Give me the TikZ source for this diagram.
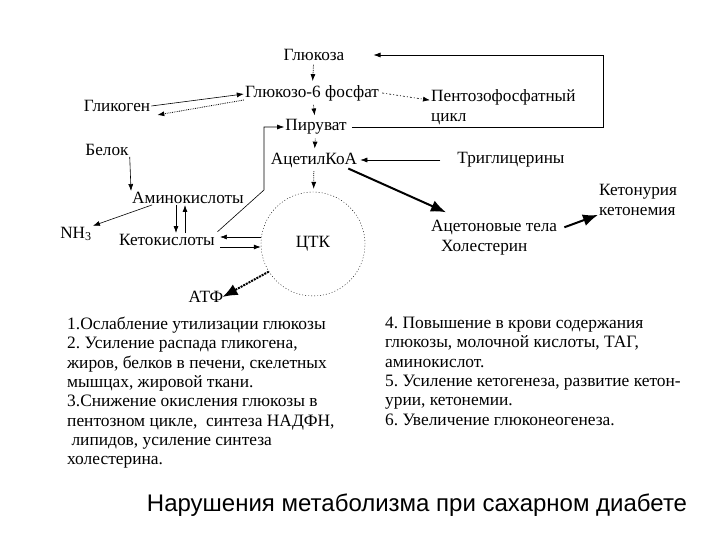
\documentclass[tikz,border=0pt]{standalone}
\usepackage{fontspec}
\setmainfont{Liberation Serif}
\newfontfamily\titlefont{Liberation Sans}
\usetikzlibrary{arrows, arrows.meta, positioning}
\frenchspacing

\begin{document}
\begin{tikzpicture}[
  x=1pt, y=-1pt,
  every node/.style={
    inner sep=1pt,
    font=\fontsize{17.2}{20}\selectfont,
    align=left
  },
  >={Latex[length=7pt,width=5pt]}, %Make the arrow tips latex
  myline/.style={draw, semithick, black},
  mylinedot/.style={draw, thick, black, densely dotted},
  mybig/.style={draw, line width=2pt, black, -{Latex[length=15pt,width=12pt]}},
  shorter/.style={shorten <=1mm, shorten >=1mm},
  list text/.style={anchor=north west, font=\fontsize{17.4}{19.3}\selectfont}
  ]
\useasboundingbox (0,0) rectangle (720,540);
% central chain
\node (GLU) at (314,55) {Глюкоза};
\node (G6P) at (312,93) {Глюкозо-6 фосфат};
\node (PYR) at (316,127) {Пируват};
\node (ACOA) at (314,160) {АцетилКоА};
\node[circle, draw, thin, dash pattern=on 1pt off 2pt, minimum size=104pt] (CTK) at (313,244) {ЦТК};
% left side
\node (GLY) at (117,106) {Гликоген};
\node (PROT) at (107,150) {Белок};
\node (AMINO) at (188,198) {Аминокислоты};
\node (NH3) at (76,234) {NH\textsubscript{3}};
\node (KETO) at (167,240) {Кетокислоты};
\node (ATP) at (206,297) {АТФ};
% right side
\node[anchor=west] (PENT) at (430,107) {Пентозофосфатный\\цикл};
\node (TAG) at (511,160) {Триглицерины};
\node[anchor=west] (ACET) at (430,238) {Ацетоновые тела\\\hspace{10pt}Холестерин};
\node[anchor=west] (KETU) at (598,200) {Кетонурия\\кетонемия};
\coordinate (LOOP) at (603,55);
\coordinate (BEND) at (264,190);

\path[mylinedot,shorter] (GLU) edge[->] (G6P)
                         (G6P) edge[->] (PYR)
                         (PYR) edge[->] (ACOA)
                         (ACOA) edge[->] (CTK);
\draw[myline,->,shorten >=28pt] ([xshift=4pt]PYR.east) -| (LOOP) -- (GLU.east);
\draw[myline,->,shorten <=2pt] (KETO.north east) -- (BEND) |- (PYR.west);
\draw[myline,->,shorten >=2pt] ([xshift=-16pt]TAG.west) -- (ACOA.east);
\draw[semithick,dash pattern=on 2pt off 2pt on 1pt off 2pt,->] ([xshift=2pt]G6P.east) -- ([yshift=-12pt]PENT.north west);
\draw[semithick,->] ([yshift=0pt]GLY.east) -- ([yshift=-1pt]G6P.west);
\draw[thick,densely dotted,->] ([yshift=-7pt]G6P.west) -- ([xshift=6pt,yshift=-9pt]GLY.east);
\draw[semithick,->] (PROT.south east) -- (AMINO.north west);
\draw[semithick,->] ([xshift=-36pt]AMINO.south) -- (NH3.north east);
\draw[thick,->] ([xshift=-12pt]AMINO.south) -- ([xshift=9pt]KETO.north);
\draw[thick,->] ([xshift=18pt]KETO.north) -- ([xshift=-3pt]AMINO.south);
\draw[semithick,->] ([yshift=7pt]CTK.west) -- ([xshift=4pt,yshift=7pt]CTK.west -| KETO.east);
\draw[thick,->] ([xshift=4pt,yshift=-3pt]CTK.west -| KETO.east) -- ([yshift=-3pt]CTK.west);
\draw[line width=2pt, densely dotted, -{Latex[length=15pt,width=12pt]}] (CTK.212) -- ([xshift=-2pt]ATP.east);
\draw[mybig] ([xshift=-10pt]ACOA.south east) -- ([xshift=16pt,yshift=7pt]ACET.north west);
\draw[mybig] ([xshift=6pt,yshift=-8pt]ACET.north east) -- ([yshift=2pt]KETU.south west);

\begin{scope}[every node/.append style={list text}]
  \node (LEFT) at (66,316) {1.Ослабление утилизации глюкозы\\
    2. Усиление распада гликогена,\\
    жиров, белков в печени, скелетных\\
    мышцах, жировой ткани.\\
    3.Снижение окисления глюкозы в\\
    пентозном цикле,\ \ синтеза НАДФН,\\
    \ липидов, усиление синтеза\\
    холестерина.};
  \node (RIGHT) at (384,316) {4. Повышение в крови содержания\\
    глюкозы, молочной кислоты, ТАГ,\\
    аминокислот.\\
    5. Усиление кетогенеза, развитие кетон-\\
    урии, кетонемии.\\
    6. Увеличение глюконеогенеза.};
\end{scope}
\node[font=\titlefont\fontsize{24}{28}\selectfont] (TITLE) at (417,505) {Нарушения метаболизма при сахарном диабете};
\end{tikzpicture}
\end{document}
